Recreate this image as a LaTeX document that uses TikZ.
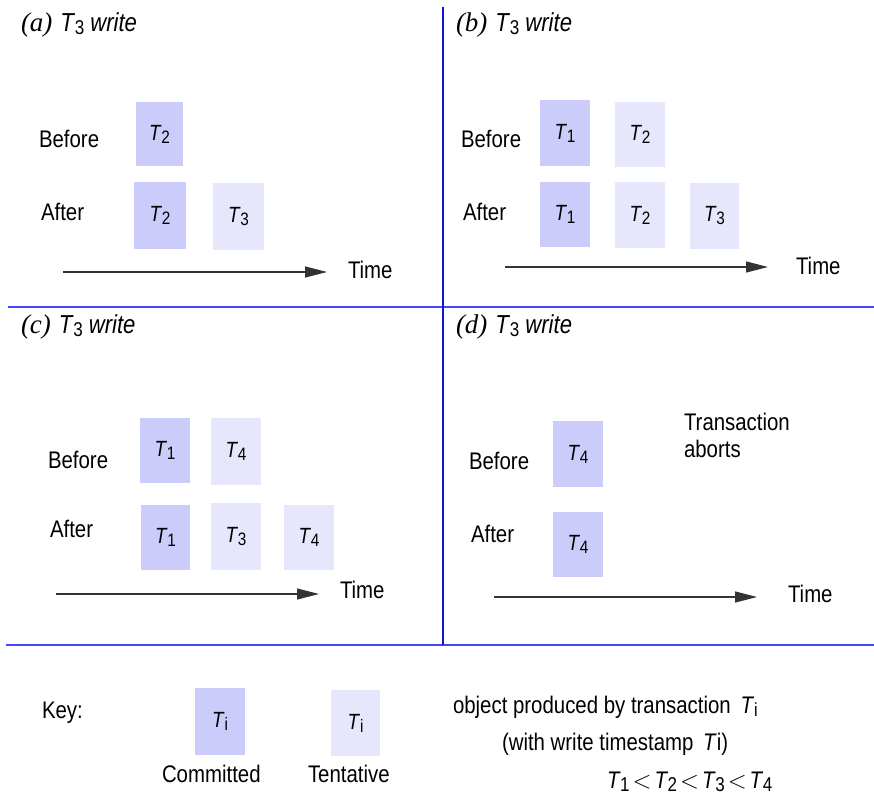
\documentclass[tikz,border=0pt]{standalone}
\usepackage{fontspec}
\setmainfont{Liberation Sans}[FakeStretch=0.85]
\newfontfamily\serifit{Liberation Serif Italic}
\usetikzlibrary{arrows.meta}
\definecolor{commitc}{RGB}{204,204,250}
\definecolor{tentc}{RGB}{230,230,252}
\definecolor{hline}{RGB}{70,70,250}
\definecolor{vline}{RGB}{20,20,210}
\newcommand{\TT}[1]{\textit{T}\kern-0.5pt\raisebox{-3pt}{\fontsize{18}{18}\selectfont #1}}
\newcommand{\TTt}[1]{\textit{T}\kern-0.5pt\raisebox{-3pt}{\fontsize{20}{20}\selectfont #1}}
\newcommand{\tbox}[7]{\node[#2, minimum width={#5-#3}, minimum height={#6-#4}] (#1) at ({(#3+#5)/2},{(#4+#6)/2}) {#7};}
\begin{document}
\begin{tikzpicture}[x=1pt,y=-1pt,
  every node/.style={inner sep=0pt, outer sep=0pt},
  lbl/.style={anchor=base west, font=\fontsize{24}{28}\selectfont},
  ttl/.style={anchor=base west, font=\fontsize{26}{30}\selectfont},
  cbox/.style={fill=commitc, font=\fontsize{22}{22}\selectfont},
  tbx/.style={fill=tentc, font=\fontsize{22}{22}\selectfont},
  timearrow/.style={draw=black!80, line width=1.2pt, -{Triangle[length=22pt,width=11pt]}},
  sep/.style={line width=1.5pt}]
\useasboundingbox (0,0) rectangle (874,794);
% separators
\draw[sep, hline] (8,307) -- (874,307);
\draw[sep, hline] (6,645) -- (874,645);
\draw[sep, vline] (443,7) -- (443,645);

% ---- (a)
\node[ttl] (ta) at (21,32) {{\serifit\fontsize{27}{30}\selectfont(a)}\hspace{8pt}\TTt{3} \textit{write}};
\node[lbl] (aB) at (39,148) {Before};
\node[lbl] (aA) at (41,220) {After};
\tbox{a1}{cbox}{136}{102}{183}{166}{\TT{2}}
\tbox{a2}{cbox}{134}{182}{186}{249}{\TT{2}}
\tbox{a3}{tbx}{213}{183}{264}{250}{\TT{3}}
\coordinate (as) at (63,272);
\coordinate (ae) at (327,272);
\draw[timearrow] (as) -- (ae);
\node[lbl] (aT) at (348,278) {Time};

% ---- (b)
\node[ttl] (tb) at (456,32) {{\serifit\fontsize{27}{30}\selectfont(b)}\hspace{8pt}\TTt{3} \textit{write}};
\node[lbl] (bB) at (461,148) {Before};
\node[lbl] (bA) at (463,220) {After};
\tbox{b1}{cbox}{540}{100}{590}{166}{\TT{1}}
\tbox{b2}{tbx}{615}{102}{665}{167}{\TT{2}}
\tbox{b3}{cbox}{540}{182}{590}{247}{\TT{1}}
\tbox{b4}{tbx}{615}{182}{665}{248}{\TT{2}}
\tbox{b5}{tbx}{690}{183}{739}{249}{\TT{3}}
\coordinate (bs) at (505,267);
\coordinate (be) at (768,267);
\draw[timearrow] (bs) -- (be);
\node[lbl] (bT) at (796,274) {Time};

% ---- (c)
\node[ttl] (tc) at (21,333) {{\serifit\fontsize{27}{30}\selectfont(c)}\hspace{8pt}\TTt{3} \textit{write}};
\node[lbl] (cB) at (48,468) {Before};
\node[lbl] (cA) at (50,537) {After};
\tbox{c1}{cbox}{140}{418}{190}{483}{\TT{1}}
\tbox{c2}{tbx}{211}{418}{261}{485}{\TT{4}}
\tbox{c3}{cbox}{141}{505}{190}{570}{\TT{1}}
\tbox{c4}{tbx}{211}{503}{261}{570}{\TT{3}}
\tbox{c5}{tbx}{284}{505}{334}{570}{\TT{4}}
\coordinate (cs) at (56,594);
\coordinate (ce) at (319,594);
\draw[timearrow] (cs) -- (ce);
\node[lbl] (cT) at (340,598) {Time};

% ---- (d)
\node[ttl] (td) at (456,333) {{\serifit\fontsize{27}{30}\selectfont(d)}\hspace{8pt}\TTt{3} \textit{write}};
\node[lbl] (dB) at (469,469) {Before};
\node[lbl] (dA) at (471,542) {After};
\tbox{d1}{cbox}{553}{421}{603}{487}{\TT{4}}
\tbox{d2}{cbox}{553}{512}{603}{577}{\TT{4}}
\node[lbl] (dTr) at (684,430) {Transaction};
\node[lbl] (dAb) at (684,457) {aborts};
\coordinate (ds) at (494,597);
\coordinate (de) at (757,597);
\draw[timearrow] (ds) -- (de);
\node[lbl] (dT) at (788,602) {Time};

% ---- key
\node[lbl] (key) at (42,718) {Key:};
\tbox{k1}{cbox}{195}{688}{245}{755}{\textit{T}\raisebox{-3pt}{\fontsize{18}{18}\selectfont i}}
\tbox{k2}{tbx}{331}{690}{380}{756}{\textit{T}\raisebox{-3pt}{\fontsize{18}{18}\selectfont i}}
\node[lbl] (kc) at (162,782) {Committed};
\node[lbl] (kt) at (308,782) {Tentative};
\node[lbl] (k3) at (453,713) {object produced by transaction \,\textit{T}\raisebox{-3pt}{\fontsize{19}{19}\selectfont i}};
\node[lbl] (k4) at (502,750) {(with write timestamp \,\textit{T}i)};
\node[lbl] (k5) at (607,788) {\TTt{1}\hspace{3pt}$<$\hspace{3pt}\TTt{2}\hspace{3pt}$<$\hspace{3pt}\TTt{3}\hspace{3pt}$<$\hspace{3pt}\TTt{4}};
\end{tikzpicture}
\end{document}
